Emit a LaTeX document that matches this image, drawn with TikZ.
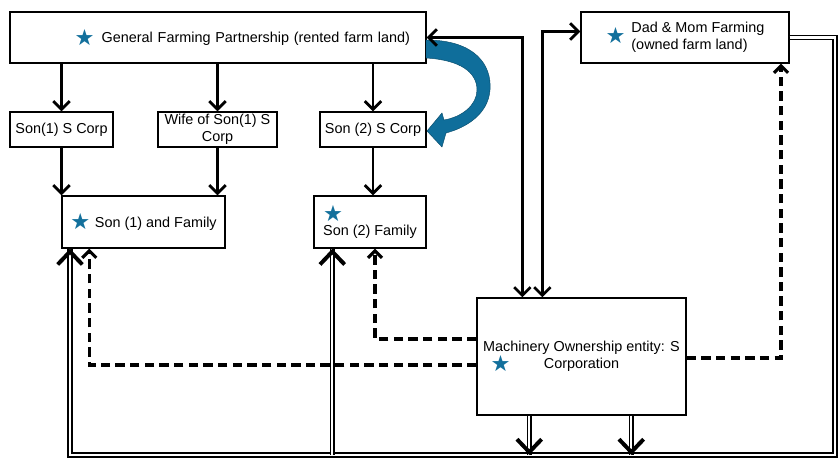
\documentclass[tikz,border=0pt]{standalone}
\usepackage{fontspec}
\setmainfont{Liberation Sans}
\newfontfamily\starfont{DejaVu Sans}
\usetikzlibrary{arrows.meta,calc}
\definecolor{starblue}{HTML}{13709C}
\definecolor{bendblue}{HTML}{0F6E9B}
\newcommand{\starsym}{{\starfont\fontsize{19}{19}\selectfont\color{starblue}\raisebox{-2pt}{★}}}

\begin{document}
\begin{tikzpicture}[x=0.03cm,y=-0.03cm,
        font=\fontsize{12.3}{14.5}\selectfont,
        box/.style={draw=black,line width=1.2pt,inner sep=2pt,align=center},
        arr/.style={line width=2.3pt,-{Straight Barb[length=7pt,width=14pt]}},
        twoway/.style={line width=2.3pt,{Straight Barb[length=7pt,width=14pt]}-{Straight Barb[length=7pt,width=14pt]}},
        dsh/.style={line width=2.6pt,dash pattern=on 8pt off 4.5pt,-{Straight Barb[length=6pt,width=12pt]}},
        dbl/.style={draw=black,double=white,line width=1.3pt,double distance=1.8pt},
        bigtip/.style={line width=3.4pt,-{Straight Barb[length=11pt,width=21pt]}}
        ]
        \useasboundingbox (0,0) rectangle (838,459);

        \node[box,minimum width=12.48cm,minimum height=1.53cm,text width=11.52cm,inner xsep=0.48cm,align=right] (gfp) at (218,37.5) {\starsym\hspace{6pt}General Farming Partnership (rented farm land)};
        \node[box,minimum width=6.24cm,minimum height=1.53cm] (dad) at (685,37.5) {\starsym\hspace{5pt}\begin{tabular}[c]{@{}l@{}}Dad \& Mom Farming\\(owned farm land)\end{tabular}};

        \node[box,minimum width=3.09cm,minimum height=1.05cm] (s1corp) at (61.5,129.5) {Son(1) S Corp};
        \node[box,minimum width=3.57cm,minimum height=1.05cm,inner ysep=0pt] (wife) at (217.5,129.5) {Wife of Son(1) S\\Corp};
        \node[box,minimum width=3.18cm,minimum height=1.05cm] (s2corp) at (373,129.5) {Son (2) S Corp};

        \node[box,minimum width=4.89cm,minimum height=1.56cm] (fam1) at (143.5,222) {\starsym\hspace{4pt}Son (1) and Family};
        \node[box,minimum width=3.36cm,minimum height=1.56cm,align=left] (fam2) at (370,222) {\starsym\\Son (2) Family};

        \node[box,minimum width=6.27cm,minimum height=3.51cm] (mach) at (581.5,356.5) {Machinery Ownership entity: S\\\llap{\starsym\hspace{1cm}}Corporation};

        \draw[arr] (gfp.south -| s1corp.north) -- (s1corp.north);
        \draw[arr] (gfp.south -| wife.north) -- (wife.north);
        \draw[arr] (gfp.south -| s2corp.north) -- (s2corp.north);
        \draw[arr] (s1corp.south) -- (s1corp.south |- fam1.north);
        \draw[arr] (wife.south) -- (wife.south |- fam1.north);
        \draw[arr] (s2corp.south) -- (s2corp.south |- fam2.north);

        \fill[bendblue,draw=bendblue!70!black,line width=0.4pt] (426,40) .. controls (475,40) and (492,65) .. (490,90) .. controls (488,115) and (465,128) .. (446,133) -- (442,147) -- (427,131) -- (442,113) -- (444,120) .. controls (462,117) and (477,105) .. (477,90) .. controls (477,72) and (460,60) .. (426,58) -- cycle;

        \draw[twoway] (gfp.east) -| ($(mach.north west)+(46,0)$);
        \draw[twoway] ($(dad.west)+(0,-6)$) -| ($(mach.north west)+(66,0)$);

        \draw[dsh] ($(mach.west)+(0,-17.5)$) -| ($(fam2.south)+(5,0)$);
        \draw[dsh] ($(mach.west)+(0,8.5)$) -| ($(fam1.south west)+(28,0)$);
        \draw[dsh] ($(mach.east)+(0,1.5)$) -| ($(dad.south)+(96,0)$);

        \coordinate (se) at (835,455);
        \coordinate (sw) at (70,455);
        \coordinate (f2in) at ($(fam2.south west)+(19,0)$);
        \coordinate (m1) at ($(mach.south west)+(53,0)$);
        \coordinate (m2) at ($(mach.south west)+(155,0)$);
        \draw[dbl] (dad.east) -| (se) -- (sw) -- (sw |- fam1.south);
        \draw[dbl] (f2in |- sw) -- (f2in);
        \draw[dbl] (m1) -- (m1 |- sw);
        \draw[dbl] (m2) -- (m2 |- sw);

        \draw[bigtip] ($(sw |- fam1.south)+(0,1)$) -- (sw |- fam1.south);
        \draw[bigtip] ($(f2in)+(0,1)$) -- (f2in);
        \draw[bigtip] ($(m1 |- sw)+(0,-1)$) -- (m1 |- sw);
        \draw[bigtip] ($(m2 |- sw)+(0,-1)$) -- (m2 |- sw);
    \end{tikzpicture}
\end{document}
